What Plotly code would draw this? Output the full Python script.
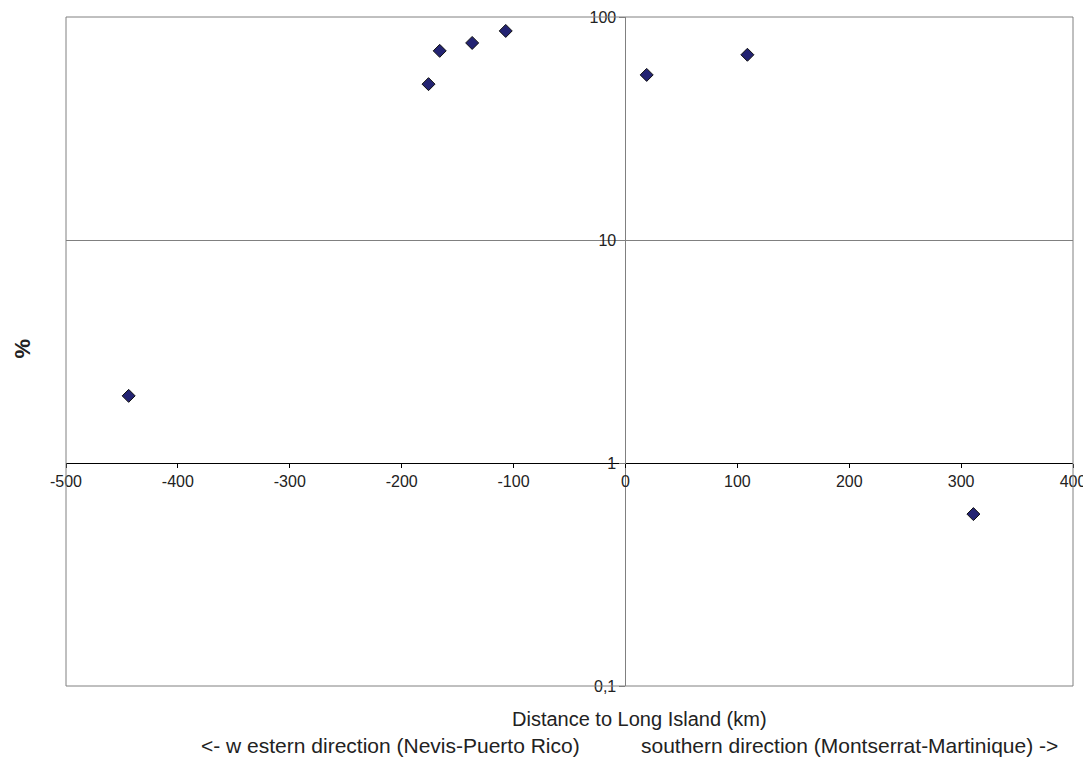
import plotly.graph_objects as go

# Data
distance_km = [-444, -176, -166, -137, -107, 19, 109, 311]
percent = [2.0, 50, 70.5, 76.5, 86.6, 55, 67.7, 0.59]

y_tickvals = [0.1, 1, 10, 100]
y_ticktext = ["0,1", "1", "10", "100"]
x_tickvals = [-500, -400, -300, -200, -100, 0, 100, 200, 300, 400]
x_ticktext = ["-500", "-400", "-300", "-200", "-100", "0", "100", "200", "300", "400"]

x_title = "Distance to Long Island (km)"
x_sub_left = "<- w estern direction (Nevis-Puerto Rico)"
x_sub_right = "southern direction (Montserrat-Martinique) ->"
y_title = "%"

FONT = "Liberation Sans, Arial, sans-serif"

fig = go.Figure()
fig.add_trace(go.Scatter(
    x=distance_km, y=percent, mode="markers",
    marker=dict(symbol="diamond", size=10, color="#232372",
                line=dict(color="#111111", width=1)),
    showlegend=False, cliponaxis=False,
))

x_min, x_max = -500, 400
fig.update_layout(
    width=1091, height=760,
    margin=dict(l=58, r=26, t=9, b=82, autoexpand=False),
    paper_bgcolor="white", plot_bgcolor="white",
    font=dict(family=FONT, size=16, color="#222222"),
    xaxis=dict(
        range=[x_min, x_max], tickvals=x_tickvals, ticktext=x_ticktext,
        anchor="free", position=1/3, automargin=False,
        showline=True, linecolor="#000000", linewidth=1,
        ticks="outside", ticklen=4, tickcolor="#000000",
        showgrid=False, zeroline=False, ticklabeloverflow="allow",
        tickfont=dict(size=16),
    ),
    yaxis=dict(
        type="log", range=[-1, 2],
        tickvals=y_tickvals, ticktext=y_ticktext,
        anchor="free", position=(0 - x_min) / (x_max - x_min), automargin=False,
        showline=True, linecolor="#808080", linewidth=1,
        ticks="outside", ticklen=6, tickcolor="#808080",
        showgrid=True, gridcolor="#808080", gridwidth=1,
        zeroline=False, ticklabeloverflow="allow", tickfont=dict(size=16),
    ),
    shapes=[dict(type="rect", xref="paper", yref="paper", x0=0, x1=1, y0=0, y1=1,
                 line=dict(color="#808080", width=1), layer="above")],
    annotations=[
        dict(text=x_title, xref="paper", yref="paper", x=0.570, y=-0.049,
             showarrow=False, font=dict(size=20), xanchor="center", yanchor="middle"),
        dict(text=x_sub_left, xref="paper", yref="paper", x=0.3227, y=-0.089,
             showarrow=False, font=dict(size=21), xanchor="center", yanchor="middle"),
        dict(text=x_sub_right, xref="paper", yref="paper", x=0.7776, y=-0.089,
             showarrow=False, font=dict(size=21), xanchor="center", yanchor="middle"),
        dict(text="<b>" + y_title + "</b>", xref="paper", yref="paper", x=-0.0437, y=0.5045,
             textangle=-90, showarrow=False, font=dict(size=22), xanchor="center", yanchor="middle"),
    ],
)

fig.write_html("out.html")
